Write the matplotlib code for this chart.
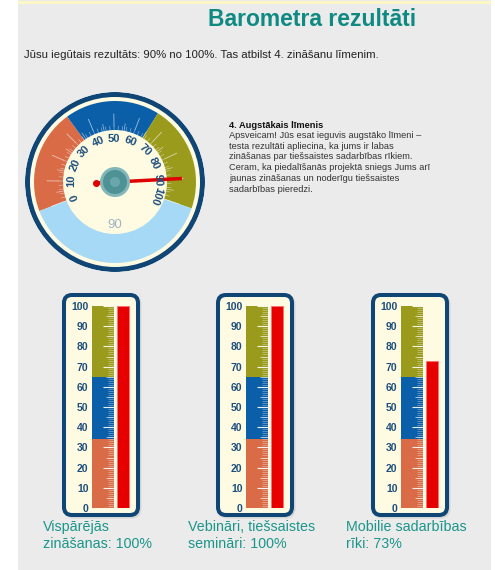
import numpy as np
import matplotlib
matplotlib.use("Agg")
import matplotlib.pyplot as plt
from matplotlib.patches import Rectangle, FancyBboxPatch

W, H = 495, 570

TITLE = "Barometra rezultāti"
SUMMARY = "Jūsu iegūtais rezultāts: 90% no 100%. Tas atbilst 4. zināšanu līmenim."
LEVEL_TITLE = "4. Augstākais līmenis"
LEVEL_TEXT = [
    "Apsveicam! Jūs esat ieguvis augstāko līmeni –",
    "testa rezultāti apliecina, ka jums ir labas",
    "zināšanas par tiešsaistes sadarbības rīkiem.",
    "Ceram, ka piedalīšanās projektā sniegs Jums arī",
    "jaunas zināšanas un noderīgu tiešsaistes",
    "sadarbības pieredzi.",
]

SCORE = 90
LEVEL_EDGES = [0, 34, 65, 100]
LEVEL_COLORS = ["#d96b47", "#0b5fa8", "#9a9b1c"]
SCALE_TICKS = list(range(0, 101, 10))

CATEGORIES = ["Vispārējās\nzināšanas", "Vebināri, tiešsaistes\nsemināri", "Mobilie sadarbības\nrīki"]
VALUES = [100, 100, 73]

NAVY = "#0f4675"
CREAM = "#fffbe2"
TEAL = "#0f8a82"
plt.rcParams["font.family"] = ["Liberation Sans", "DejaVu Sans"]

fig = plt.figure(figsize=(W / 100, H / 100), dpi=100)
fig.patch.set_facecolor("white")

# page canvas in pixel coords
cv = fig.add_axes([0, 0, 1, 1])
cv.set_xlim(0, W)
cv.set_ylim(H, 0)
cv.axis("off")
cv.add_patch(Rectangle((18, 0), 473, H, fc="#ebebeb", ec="none"))
cv.add_patch(Rectangle((18, 1), 473, 3, fc="#fdf7c6", ec="none"))

cv.text(312, 20, TITLE, ha="center", va="center", fontsize=16.5, fontweight="bold", color=TEAL)
cv.text(24, 55, SUMMARY, ha="left", va="center", fontsize=8.2, color="#222222")
cv.text(229, 125, LEVEL_TITLE, ha="left", va="center", fontsize=6.7, fontweight="bold", color="#111111")
for i, line in enumerate(LEVEL_TEXT):
    cv.text(229, 135.5 + i * 10.7, line, ha="left", va="center", fontsize=6.7, color="#333333")

# gauge
START, SWEEP = 201, 220
R_IN, R_OUT = 52, 81


def ang(v):
    return np.radians(START - SWEEP * v / 100)


gx = fig.add_axes([(115 - 90) / W, 1 - (182 + 90) / H, 180 / W, 180 / H], projection="polar")
gx.set_axis_off()
gx.set_ylim(0, 90)
full = 2 * np.pi
gx.bar(0, 90, width=full, bottom=0, color=NAVY, lw=0)
gx.bar(0, 85, width=full, bottom=0, color=CREAM, lw=0)
for lo, hi, c in zip(LEVEL_EDGES[:-1], LEVEL_EDGES[1:], LEVEL_COLORS):
    gx.bar(ang((lo + hi) / 2), R_OUT - R_IN, width=np.radians(SWEEP * (hi - lo) / 100),
           bottom=R_IN, color=c, lw=0)
rest = 360 - SWEEP
gx.bar(ang(100) - np.radians(rest / 2), R_OUT - R_IN, width=np.radians(rest),
       bottom=R_IN, color="#a6d9f5", lw=0)
for v in range(0, 101, 2):
    gx.plot([ang(v)] * 2, [R_IN, R_IN + 4], color="white", lw=0.4, alpha=0.6)
for v in range(5, 100, 10):
    gx.plot([ang(v)] * 2, [R_IN, R_IN + 7], color="white", lw=0.5, alpha=0.6)
for v in range(0, 101, 10):
    gx.plot([ang(v)] * 2, [R_IN + 4, R_IN + 16], color="white", lw=0.6, alpha=0.6)
for v in SCALE_TICKS:
    gx.text(ang(v), 43.5, str(v), rotation=np.degrees(ang(v)) - 90, rotation_mode="anchor",
            ha="center", va="center", fontsize=8, fontweight="bold", color="#1d4f7d")
gx.text(np.radians(270), 43, str(SCORE), ha="center", va="center", fontsize=9.5, color="#9fb4c6")
a = ang(SCORE)
gx.plot([a, a], [0, 67], color="#e00000", lw=2.5, solid_capstyle="butt")
gx.plot([a + np.pi] * 2, [0, 19], color="#e00000", lw=2.5, solid_capstyle="butt")
gx.plot([a + np.pi], [19], "o", color="#e00000", ms=4)
gx.bar(0, 15, width=full, bottom=0, color="#82b6b8", lw=0, zorder=5)
gx.bar(0, 12, width=full, bottom=0, color="#4f9296", lw=0, zorder=6)
gx.bar(np.radians(135), 5, width=full, bottom=0, color="#6aa7aa", lw=0, zorder=7)

# thermometers
FRAME_X = [62, 216, 371]
LABEL_X = [43, 188, 346]
for fx, lx, cat, val in zip(FRAME_X, LABEL_X, CATEGORIES, VALUES):
    cv.add_patch(FancyBboxPatch((fx + 3.5, 296.5), 74, 220, boxstyle="round,pad=0,rounding_size=8",
                                fc="#c8c8c8", ec="#c8c8c8", lw=2.9, alpha=0.6))
    cv.add_patch(FancyBboxPatch((fx + 2, 295), 74, 220, boxstyle="round,pad=0,rounding_size=8",
                                fc=CREAM, ec=NAVY, lw=2.9))
    tx = fig.add_axes([(fx + 30) / W, 1 - 508 / H, 38 / W, 202 / H])
    tx.set_xlim(0, 38)
    tx.set_ylim(0, 100)
    tx.patch.set_alpha(0)
    for s in tx.spines.values():
        s.set_visible(False)
    for lo, hi, c in zip(LEVEL_EDGES[:-1], LEVEL_EDGES[1:], LEVEL_COLORS):
        tx.bar(11, hi - lo, width=22, bottom=lo, color=c, lw=0)
    tx.hlines(np.arange(1, 100), 16, 22, color="white", lw=0.4, alpha=0.55)
    tx.hlines(np.arange(5, 100, 10), 14, 22, color="white", lw=0.6, alpha=0.7)
    tx.hlines(SCALE_TICKS, 11, 22, color="white", lw=0.8, alpha=0.9)
    tx.bar(31, val, width=12, color="#e60000", ec="#ff7070", lw=0.6)
    tx.set_xticks([])
    tx.set_yticks(SCALE_TICKS)
    tx.set_yticklabels([str(t) for t in SCALE_TICKS])
    tx.tick_params(axis="y", length=0, pad=2.5, labelsize=7.5, labelcolor="#1d4f7d")
    for lab in tx.get_yticklabels():
        lab.set_fontweight("bold")
    cv.text(lx, 520, f"{cat}: {val}%", ha="left", va="top", fontsize=10.3, color="#1b958a",
            linespacing=1.3)

fig.savefig("out.png", dpi=100, facecolor=fig.get_facecolor())
